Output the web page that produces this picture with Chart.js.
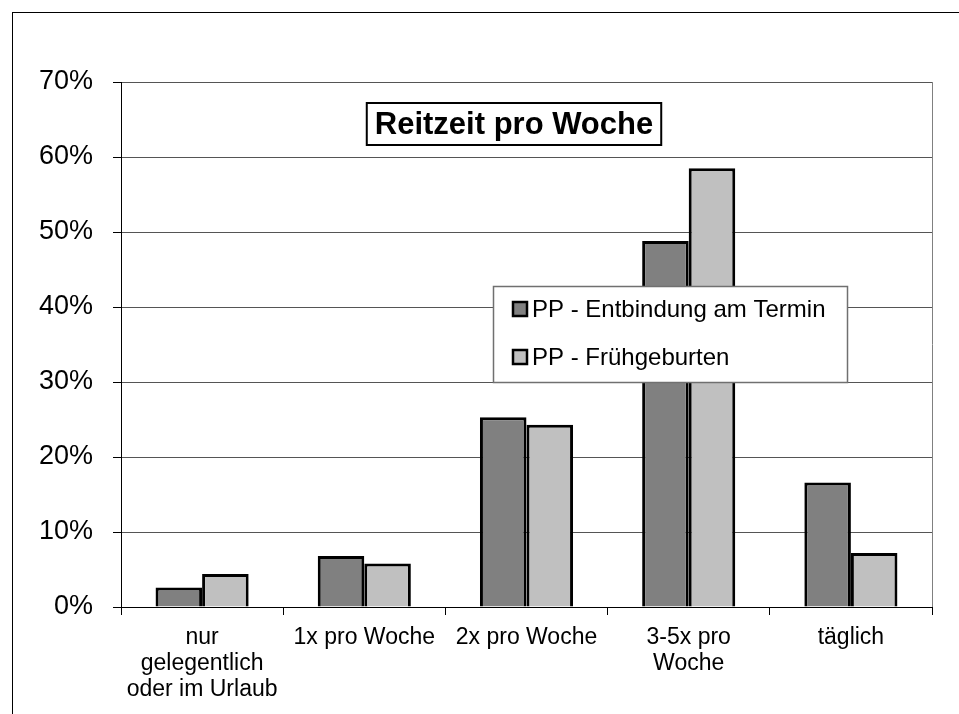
<!DOCTYPE html>
<html>
<head>
<meta charset="utf-8">
<script src="https://cdn.jsdelivr.net/npm/chart.js@4"></script>
<style>
  html, body { margin: 0; padding: 0; background: #fff; }
  #wrap { width: 959px; height: 714px; position: relative; }
</style>
</head>
<body>
<div id="wrap"><canvas id="chart"></canvas></div>
<script>
const categories = [
  ["nur", "gelegentlich", "oder im Urlaub"],
  "1x pro Woche",
  "2x pro Woche",
  ["3-5x pro", "Woche"],
  "täglich",
];
const seriesNames = ["PP - Entbindung am Termin", "PP - Frühgeburten"];
const terminValues = [2.6, 6.8, 25.3, 48.8, 16.6];
const fruehValues = [4.4, 5.8, 24.3, 58.5, 7.2];
const chartTitle = "Reitzeit pro Woche";

const FONT = "'Liberation Sans', Arial, sans-serif";

// frame, title box and the floating legend, as Excel drew them
const excelBits = {
  id: "excelBits",
  beforeDraw(chart) {
    const { ctx, chartArea: a } = chart;
    ctx.save();
    ctx.fillStyle = "#fff";
    ctx.fillRect(0, 0, chart.width, chart.height);
    ctx.strokeStyle = "#000";
    ctx.lineWidth = 1;
    ctx.strokeRect(12.5, 12.5, chart.width + 20, chart.height + 20);
    ctx.strokeStyle = "#808080";
    ctx.beginPath();
    ctx.moveTo(Math.round(a.right) + 0.5, a.top);
    ctx.lineTo(Math.round(a.right) + 0.5, a.bottom);
    ctx.stroke();
    ctx.restore();
  },
  afterDatasetsDraw(chart) {
    const { ctx } = chart;
    ctx.save();

    // title
    ctx.font = "bold 31px " + FONT;
    const tw = ctx.measureText(chartTitle).width;
    const cx = 514, cy = 124;
    ctx.fillStyle = "#fff";
    ctx.fillRect(cx - tw / 2 - 8, 103, tw + 16, 42);
    ctx.strokeStyle = "#000";
    ctx.lineWidth = 2;
    ctx.strokeRect(cx - tw / 2 - 8, 103, tw + 16, 42);
    ctx.fillStyle = "#000";
    ctx.textAlign = "center";
    ctx.textBaseline = "middle";
    ctx.fillText(chartTitle, cx, cy + 1);

    // legend
    ctx.fillStyle = "#fff";
    ctx.fillRect(493, 286, 354, 96);
    ctx.strokeStyle = "#707070";
    ctx.lineWidth = 1.5;
    ctx.strokeRect(493.5, 286.5, 354, 96);
    ctx.font = "24px " + FONT;
    ctx.textAlign = "left";
    chart.data.datasets.forEach((ds, i) => {
      const y = 309 + i * 48;
      ctx.fillStyle = ds.backgroundColor;
      ctx.fillRect(513, y - 7, 14, 14);
      ctx.strokeStyle = "#000";
      ctx.lineWidth = 2.5;
      ctx.strokeRect(513, y - 7, 14, 14);
      ctx.fillStyle = "#000";
      ctx.fillText(ds.label, 532, y + 1);
    });
    ctx.restore();
  },
};

new Chart(document.getElementById("chart"), {
  type: "bar",
  data: {
    labels: categories,
    datasets: [
      {
        label: seriesNames[0],
        data: terminValues,
        backgroundColor: "#808080",
        borderColor: "#000",
        borderWidth: 3,
        borderSkipped: "bottom",
      },
      {
        label: seriesNames[1],
        data: fruehValues,
        backgroundColor: "#c0c0c0",
        borderColor: "#000",
        borderWidth: 3,
        borderSkipped: "bottom",
      },
    ],
  },
  options: {
    responsive: true,
    maintainAspectRatio: false,
    animation: false,
    categoryPercentage: 0.574,
    barPercentage: 1.0,
    layout: {
      padding: { top: 82, right: 27, bottom: 0, left: 0 },
    },
    plugins: {
      legend: { display: false },
      title: { display: false },
      tooltip: { enabled: false },
    },
    scales: {
      x: {
        grid: {
          drawOnChartArea: false,
          offset: true,
          tickLength: 8,
          tickColor: "#000",
        },
        border: { color: "#000", width: 1 },
        ticks: {
          color: "#000",
          font: { family: FONT, size: 23, lineHeight: 1.15 },
          padding: 9,
          maxRotation: 0,
          autoSkip: false,
        },
        afterFit(scale) {
          scale.height = 107;
        },
      },
      y: {
        min: 0,
        max: 70,
        grid: {
          color: "#555",
          lineWidth: 1,
          tickLength: 8,
          tickColor: "#000",
        },
        border: { color: "#000", width: 1 },
        ticks: {
          stepSize: 10,
          color: "#000",
          font: { family: FONT, size: 27 },
          padding: 20,
          callback: (v) => v + "%",
        },
        afterFit(scale) {
          scale.width = 121;
        },
      },
    },
  },
  plugins: [excelBits],
});
</script>
</body>
</html>
